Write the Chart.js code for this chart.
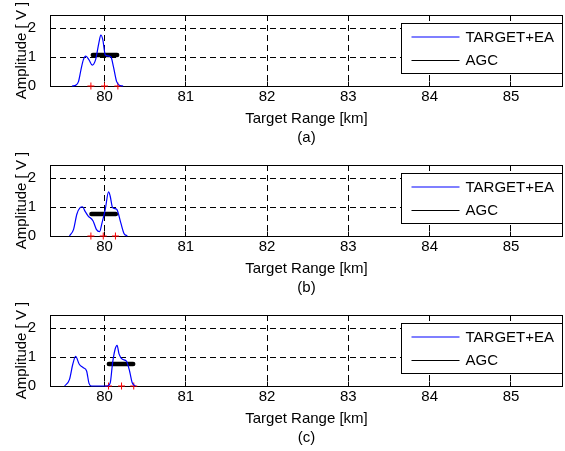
<!DOCTYPE html>
<html>
<head>
<meta charset="utf-8">
<script src="https://cdn.jsdelivr.net/npm/chart.js@4/dist/chart.umd.min.js"></script>
<style>
  html, body { margin: 0; padding: 0; background: #fff; }
  #wrap { position: relative; width: 565px; height: 451px; overflow: hidden; }
  .panel { position: absolute; left: 0; width: 565px; height: 150px; }
</style>
</head>
<body>
<div id="wrap">
  <div class="panel" style="top:0px"><canvas id="ca" width="565" height="150"></canvas></div>
  <div class="panel" style="top:150px"><canvas id="cb" width="565" height="150"></canvas></div>
  <div class="panel" style="top:300px"><canvas id="cc" width="565" height="150"></canvas></div>
</div>
<script>
// ---- data ----
const xTicks = [80, 81, 82, 83, 84, 85];
const yTicks = [0, 1, 2];
const xMin = 79.33, xMax = 85.64;
const yMin = 0, yMax = 2.45;
const seriesNames = ['TARGET+EA', 'AGC'];
const xTitle = 'Target Range [km]';
const yTitle = 'Amplitude [ V ]';
const panelLabels = ['(a)', '(b)', '(c)'];

// panel (a)
const rangeA = [79.60, 79.65, 79.68, 79.71, 79.74, 79.77, 79.81, 79.85, 79.89, 79.93, 79.955, 79.98, 80.01, 80.04, 80.08, 80.11, 80.15, 80.19, 80.23];
const ampA   = [0,     0.03,  0.15,  0.55,  0.90,  1.03,  0.90,  0.72,  0.90,  1.47,  1.76,   1.59,  1.07,  1.04,  1.00,  0.67,  0.15,  0.02,  0];
const agcA = [79.857, 80.156];
const agcLevelA = 1.07;
const marksA = [79.833, 80.0, 80.165];

// panel (b)
const rangeB = [79.57, 79.62, 79.66, 79.70, 79.73, 79.76, 79.80, 79.86, 79.90, 79.94, 79.97, 80.01, 80.05, 80.07, 80.10, 80.15, 80.20, 80.24, 80.28];
const ampB   = [0,     0.23,  0.75,  0.98,  1.01,  0.86,  0.69,  0.52,  0.23,  0.15,  0.45,  0.92,  1.52,  1.38,  0.98,  0.92,  0.46,  0.09,  0];
const agcB = [79.84, 80.14];
const agcLevelB = 0.76;
const marksB = [79.833, 79.985, 80.135];

// panel (c)
const rangeC = [79.51, 79.57, 79.61, 79.645, 79.69, 79.74, 79.78, 79.81, 79.84, 80.03, 80.07, 80.10, 80.13, 80.155, 80.18, 80.22, 80.27, 80.31, 80.34, 80.38];
const ampC   = [0,     0.23,  0.75,  1.02,   0.75,  0.63,  0.52,  0.09,  0,     0,     0.10,  0.80,  1.26,  1.40,   1.10,  0.92,  0.86,  0.50,  0.12,  0];
const agcC = [80.054, 80.353];
const agcLevelC = 0.76;
const marksC = [80.05, 80.21, 80.36];

// ---- drawing ----
Chart.defaults.font.family = "'Liberation Sans', Arial, sans-serif";
Chart.defaults.font.size = 15;
Chart.defaults.color = '#000';

const pts = (xs, ys) => xs.map((x, i) => ({x: x, y: ys[i]}));
const al = v => Math.floor(v) + 0.5;
const seriesColors = ['rgb(0,0,255)', 'rgb(0,0,0)'];

const framePlugin = {
  id: 'frame',
  beforeDatasetsDraw(chart) {
    const {ctx, chartArea: a, scales} = chart;
    const l = al(a.left), r = al(a.right - 1), t = al(a.top), b = al(a.bottom);
    ctx.save();
    ctx.strokeStyle = '#000';
    ctx.lineWidth = 1;
    ctx.setLineDash([]);
    ctx.strokeRect(l, t, r - l, b - t);
    const tl = 5;
    ctx.beginPath();
    xTicks.forEach(v => {
      const x = al(scales.x.getPixelForValue(v));
      ctx.moveTo(x, b); ctx.lineTo(x, b - tl);
      ctx.moveTo(x, t); ctx.lineTo(x, t + tl);
    });
    yTicks.forEach(v => {
      const y = al(scales.y.getPixelForValue(v));
      ctx.moveTo(l, y); ctx.lineTo(l + tl, y);
      ctx.moveTo(r, y); ctx.lineTo(r - tl, y);
    });
    ctx.stroke();
    ctx.restore();
  }
};

const legendPlugin = {
  id: 'boxLegend',
  afterDraw(chart) {
    const {ctx, chartArea: a} = chart;
    const right = al(a.right - 1);
    const left = right - 161;
    const top = al(a.top + 8);
    const h = 50;
    ctx.save();
    ctx.setLineDash([]);
    ctx.fillStyle = '#fff';
    ctx.fillRect(left, top, right - left, h);
    ctx.strokeStyle = '#000';
    ctx.lineWidth = 1;
    ctx.strokeRect(left, top, right - left, h);
    const rows = [top + 13, top + 36.5];
    // sample lines (blue one anti-aliased across two rows like the reference)
    const lineY = [Math.round(rows[0]), Math.round(rows[1]) + 0.5];
    for (let i = 0; i < seriesNames.length; i++) {
      ctx.strokeStyle = seriesColors[i];
      ctx.lineWidth = i === 0 ? 1.2 : 1;
      ctx.beginPath();
      ctx.moveTo(left + 10, lineY[i]);
      ctx.lineTo(left + 58, lineY[i]);
      ctx.stroke();
    }
    ctx.font = "15px 'Liberation Sans', Arial, sans-serif";
    ctx.textBaseline = 'middle';
    ctx.textAlign = 'left';
    ctx.fillStyle = '#000';
    for (let i = 0; i < seriesNames.length; i++) {
      ctx.fillText(seriesNames[i], left + 64, rows[i] + 1);
    }
    ctx.restore();
  }
};

function makePanel(id, label, xs, ys, agc, agcLevel, marks) {
  new Chart(document.getElementById(id), {
    type: 'line',
    data: {
      datasets: [
        {
          label: seriesNames[0],
          data: pts(xs, ys),
          borderColor: seriesColors[0],
          borderWidth: 1.2,
          pointRadius: 0,
          cubicInterpolationMode: 'monotone',
          fill: false,
          clip: 3
        },
        {
          label: seriesNames[1],
          data: pts(agc, [agcLevel, agcLevel]),
          borderColor: seriesColors[1],
          borderWidth: 4.5,
          borderCapStyle: 'round',
          pointRadius: 0,
          fill: false
        },
        {
          label: 'marks',
          data: pts(marks, marks.map(() => 0)),
          showLine: false,
          pointStyle: 'cross',
          pointRadius: 3.5,
          pointBorderColor: '#ff0000',
          pointBackgroundColor: '#ff0000',
          pointBorderWidth: 1,
          clip: false
        }
      ]
    },
    options: {
      responsive: false,
      animation: false,
      devicePixelRatio: 1,
      layout: { autoPadding: false, padding: { top: 15, right: 2, left: 0, bottom: 0 } },
      plugins: { legend: { display: false }, tooltip: { enabled: false } },
      scales: {
        x: {
          type: 'linear',
          position: 'bottom',
          min: xMin, max: xMax,
          afterBuildTicks: s => { s.ticks = xTicks.map(v => ({value: v})); },
          afterFit: s => { s.height = 64; s.paddingLeft = 0; s.paddingRight = 0; },
          ticks: { padding: 2, maxRotation: 0, autoSkip: false, color: '#000', font: { size: 15 } },
          grid: { drawTicks: false, color: '#000', lineWidth: 1 },
          border: { display: false, dash: [6, 4] },
          title: {
            display: true,
            text: [xTitle, label],
            color: '#000',
            font: { size: 15, lineHeight: 19 / 15 },
            padding: { top: 0, bottom: 2.5 }
          }
        },
        y: {
          type: 'linear',
          min: yMin, max: yMax,
          afterBuildTicks: s => { s.ticks = yTicks.map(v => ({value: v})); },
          afterFit: s => { s.width = 50; s.paddingTop = 0; s.paddingBottom = 0; },
          ticks: { padding: 14, color: '#000', font: { size: 15 } },
          grid: {
            drawTicks: false,
            lineWidth: 1,
            color: c => (c.tick && c.tick.value === 0) ? 'rgba(0,0,0,0)' : '#000'
          },
          border: { display: false, dash: [6, 4] },
          title: {
            display: true,
            text: yTitle,
            color: '#000',
            font: { size: 15 },
            padding: { top: 13, bottom: 0 }
          }
        }
      }
    },
    plugins: [framePlugin, legendPlugin]
  });
}

makePanel('ca', panelLabels[0], rangeA, ampA, agcA, agcLevelA, marksA);
makePanel('cb', panelLabels[1], rangeB, ampB, agcB, agcLevelB, marksB);
makePanel('cc', panelLabels[2], rangeC, ampC, agcC, agcLevelC, marksC);
</script>
</body>
</html>
